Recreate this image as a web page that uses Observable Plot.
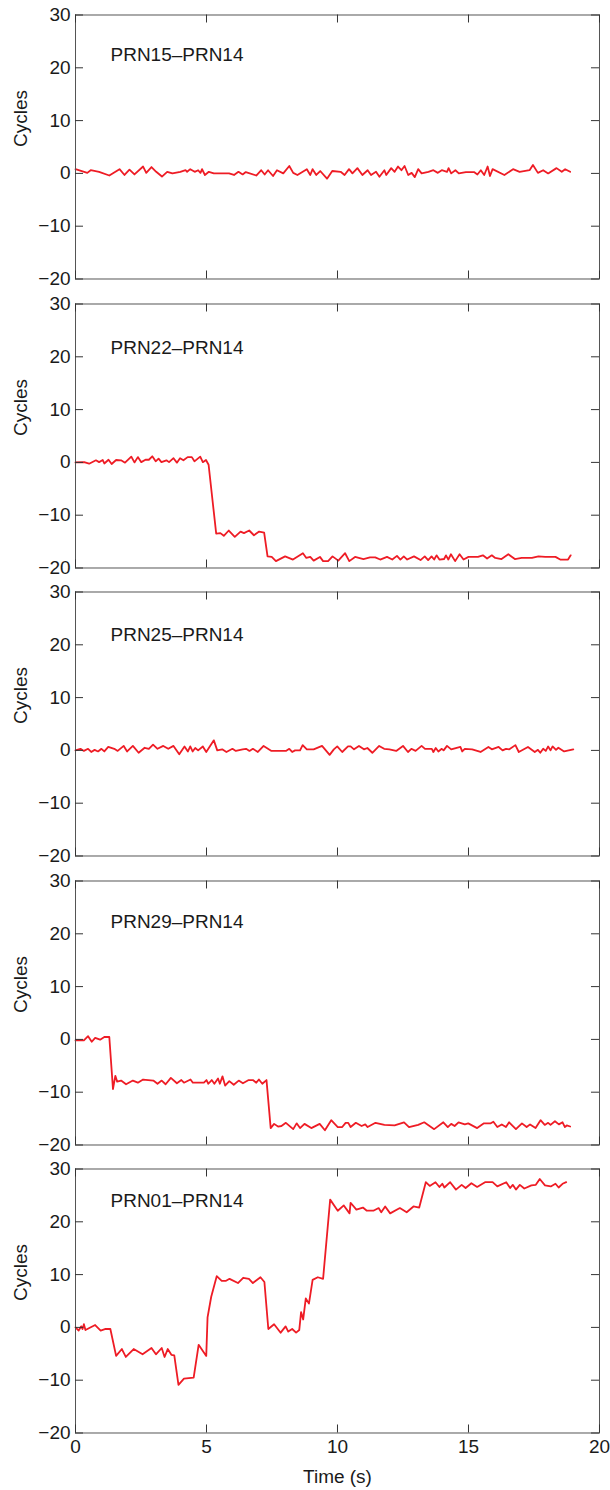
<!DOCTYPE html>
<html><head><meta charset="utf-8">
<script src="https://cdn.jsdelivr.net/npm/d3@7"></script>
<script src="https://cdn.jsdelivr.net/npm/@observablehq/plot@0.6"></script>
<style>
html,body{margin:0;padding:0;background:#fff;}
#chart svg{display:block;}
</style></head><body><div id="chart"></div>
<script>
// ---- data ----
const panelNames = ["PRN15\u2013PRN14", "PRN22\u2013PRN14", "PRN25\u2013PRN14", "PRN29\u2013PRN14", "PRN01\u2013PRN14"];
const xTicks = [0, 5, 10, 15, 20];
const yTicks = [-20, -10, 0, 10, 20, 30];
const xLabel = "Time (s)";
const yLabel = "Cycles";

const prn15Time = [0,0.45,0.58,0.9,1.29,1.68,1.87,2.06,2.25,2.58,2.7,2.9,3.08,3.3,3.5,3.7,4.0,4.2,4.26,4.38,4.55,4.68,4.77,4.83,4.94,5.09,5.28,5.86,6.05,6.22,6.38,6.5,6.9,7.09,7.22,7.35,7.54,7.69,7.93,8.16,8.31,8.47,8.83,8.96,9.05,9.19,9.34,9.6,9.8,10.12,10.27,10.44,10.57,10.76,10.95,11.15,11.28,11.47,11.6,11.79,11.86,12.05,12.18,12.31,12.44,12.56,12.7,12.83,12.95,13.08,13.21,13.47,13.66,13.83,13.98,14.18,14.24,14.34,14.5,14.63,14.9,15.21,15.34,15.47,15.6,15.73,15.82,15.92,16.37,16.7,16.95,17.33,17.46,17.65,17.85,18.04,18.36,18.56,18.69,18.88];
const prn15Cycles = [0.8,0.1,0.6,0.3,-0.4,0.8,-0.3,0.7,-0.2,1.3,0.1,1.2,0.3,-0.6,0.3,0,0.3,0.6,0.3,0.8,0.3,0.6,0.1,0.8,-0.3,0.3,0,0,-0.3,0.3,-0.2,0.25,-0.4,0.6,-0.2,0.6,-0.5,0.6,0,1.4,0.1,-0.3,0.8,-0.3,0.8,-0.3,0.45,-1.0,0.45,0.3,-0.3,0.8,0,1.0,-0.3,0.6,-0.3,0.3,-0.65,0.6,-0.3,1.0,0.3,1.3,0.6,1.4,-0.3,0.1,-0.7,0.8,0,0.3,0.6,0.1,0.6,0.3,1.0,0,0.6,0,0.25,0.25,-0.2,0.6,-0.3,1.3,-0.5,0.8,-0.3,0.8,0.3,0.6,1.6,0.1,0.6,0,1.0,0.3,0.8,0.3];

const prn22Time = [0,0.33,0.52,0.78,0.9,1.04,1.1,1.26,1.38,1.55,1.74,1.89,2.13,2.25,2.38,2.51,2.67,2.8,2.93,3.06,3.17,3.28,3.47,3.57,3.74,3.87,3.99,4.12,4.28,4.44,4.54,4.76,4.86,4.98,5.08,5.37,5.53,5.66,5.85,6.08,6.3,6.43,6.63,6.81,7.01,7.2,7.33,7.49,7.65,8.0,8.3,8.68,8.81,8.96,9.09,9.33,9.45,9.64,9.81,10.03,10.29,10.45,10.67,10.99,11.24,11.44,11.63,11.89,12.09,12.27,12.4,12.53,12.66,12.92,13.17,13.33,13.46,13.59,13.69,13.78,13.89,14.07,14.14,14.23,14.33,14.49,14.66,14.81,15.0,15.36,15.55,15.71,15.89,16.02,16.26,16.52,16.77,17.03,17.42,17.67,17.93,18.32,18.5,18.8,18.9];
const prn22Cycles = [0,0.05,-0.25,0.4,0.05,0.45,-0.2,0.5,-0.3,0.45,0.4,-0.05,1.1,0,1.0,0.05,0.5,0.5,1.15,0.2,0.7,0.05,0.4,0.05,0.8,-0.05,0.8,0.4,1.0,1.0,0.2,1.1,0.05,0.45,-0.45,-13.5,-13.4,-13.9,-12.9,-14.1,-13.1,-13.4,-12.9,-13.8,-13.1,-13.3,-17.8,-17.9,-18.7,-17.8,-18.4,-17.2,-18.1,-17.9,-18.6,-17.9,-18.7,-18.7,-17.8,-18.6,-17.2,-18.7,-17.9,-18.3,-18.0,-18.0,-18.4,-17.9,-18.4,-17.7,-18.4,-17.8,-18.4,-17.8,-18.5,-17.8,-18.5,-17.8,-18.4,-17.6,-18.4,-18.3,-17.6,-18.4,-17.4,-18.7,-17.4,-18.4,-17.9,-17.9,-17.6,-18.2,-17.6,-18.1,-18.3,-17.4,-18.3,-18.1,-18.1,-17.8,-17.9,-17.9,-18.4,-18.4,-17.6];

const prn25Time = [0,0.19,0.32,0.48,0.6,0.73,0.86,0.99,1.1,1.25,1.48,1.61,1.84,1.97,2.19,2.41,2.64,2.8,2.96,3.13,3.35,3.54,3.74,3.96,4.16,4.29,4.38,4.47,4.57,4.68,4.86,4.99,5.28,5.41,5.6,5.76,5.99,6.12,6.38,6.51,6.64,6.77,6.96,7.18,7.48,8.03,8.16,8.27,8.38,8.57,8.67,8.83,9.09,9.41,9.7,9.86,9.99,10.18,10.4,10.5,10.63,10.82,11.01,11.14,11.33,11.59,11.78,11.98,12.24,12.5,12.69,12.82,12.98,13.21,13.34,13.6,13.66,13.75,13.85,13.98,14.05,14.18,14.34,14.69,14.76,14.86,15.14,15.46,15.76,15.89,16.15,16.3,16.43,16.56,16.79,16.92,17.27,17.53,17.65,17.74,17.85,17.95,18.04,18.13,18.21,18.34,18.43,18.65,19.0];
const prn25Cycles = [0,0.3,-0.1,0.3,-0.3,0.1,-0.2,0.3,-0.2,0.65,0.3,-0.1,0.85,-0.2,0.85,-0.45,0.5,0.3,1.1,0.3,0.85,0.3,0.85,-0.75,0.75,-0.2,0.75,-0.2,0.45,0,0.75,-0.3,1.9,0,0.2,-0.3,0.3,-0.1,0.2,0.3,-0.1,0.3,-0.3,0.85,-0.1,-0.1,0.3,-0.3,0,0,1.0,0.2,0.2,0.85,-0.85,0.2,0.75,-0.3,0.75,0.75,0.2,0.85,0.2,0.45,-0.45,0.85,0.3,0.2,-0.1,0.85,-0.3,0.3,-0.1,0.85,0.3,0.3,-0.3,0.45,-0.2,0.3,0,0.85,0.2,0.65,-0.2,0.3,0.2,-0.3,0.65,0.2,0.65,0,0.3,0.2,1.0,-0.3,0.65,-0.3,0.1,-0.45,0.3,-0.1,0.75,0,0.75,0.1,0.5,-0.2,0.2];

const prn29Time = [0,0.32,0.48,0.62,0.75,0.94,1.1,1.29,1.43,1.52,1.59,1.74,1.93,2.19,2.38,2.58,2.97,3.13,3.29,3.44,3.64,3.87,4.04,4.14,4.39,4.48,4.9,5.0,5.07,5.2,5.3,5.44,5.51,5.61,5.71,5.87,6.04,6.23,6.39,6.61,6.77,6.9,7.0,7.13,7.29,7.45,7.58,7.73,7.86,8.03,8.31,8.44,8.57,8.74,9.0,9.32,9.52,9.76,10.01,10.18,10.31,10.41,10.5,10.7,10.92,11.06,11.15,11.45,11.79,12.18,12.54,12.73,13.08,13.31,13.69,14.04,14.21,14.34,14.47,14.62,14.86,14.99,15.33,15.59,15.85,15.95,16.1,16.27,16.43,16.55,16.81,17.04,17.22,17.35,17.56,17.75,17.91,18.04,18.13,18.3,18.45,18.59,18.68,18.75,18.88];
const prn29Cycles = [-0.2,-0.2,0.6,-0.45,0.3,-0.05,0.45,0.45,-9.4,-6.9,-8.0,-7.8,-8.5,-7.8,-8.2,-7.6,-7.8,-8.4,-7.8,-8.5,-7.3,-8.3,-7.7,-8.2,-7.6,-8.2,-8.2,-7.7,-8.4,-7.7,-8.4,-7.4,-8.4,-7.0,-8.75,-7.9,-8.6,-7.8,-8.3,-7.7,-7.7,-8.2,-7.6,-8.4,-7.7,-16.8,-16.0,-16.5,-16.4,-15.8,-17.0,-15.9,-16.8,-16.0,-16.8,-16.0,-17.2,-15.3,-16.6,-16.6,-15.8,-15.8,-16.6,-15.8,-16.4,-16.1,-16.6,-15.8,-16.2,-16.3,-15.7,-16.6,-16.2,-15.7,-17.0,-15.7,-16.6,-16.0,-16.4,-15.7,-16.1,-15.9,-16.8,-15.9,-15.9,-15.6,-16.6,-16.1,-16.6,-15.7,-17.0,-15.9,-16.6,-16.1,-16.8,-15.3,-16.2,-15.8,-16.2,-15.5,-16.1,-15.7,-16.6,-16.3,-16.5];

const prn01Time = [0,0.12,0.22,0.27,0.32,0.38,0.75,0.96,1.15,1.33,1.55,1.77,1.92,2.22,2.56,2.9,3.07,3.29,3.4,3.52,3.66,3.77,3.93,4.14,4.51,4.7,4.99,5.04,5.18,5.39,5.58,5.73,5.88,6.2,6.4,6.62,6.77,7.06,7.21,7.36,7.58,7.83,8.02,8.12,8.27,8.42,8.54,8.61,8.69,8.79,8.91,9.05,9.25,9.45,9.72,10.01,10.24,10.46,10.5,10.72,10.97,11.12,11.37,11.57,11.67,11.82,12.01,12.38,12.64,12.9,13.12,13.37,13.52,13.74,13.89,14.0,14.08,14.3,14.52,14.74,14.89,15.11,15.33,15.63,15.92,16.1,16.44,16.59,16.69,16.81,16.96,17.13,17.4,17.57,17.72,17.92,18.14,18.32,18.44,18.59,18.73];
const prn01Cycles = [0,-0.6,0.2,-0.3,0.6,-0.5,0.45,-0.6,-0.3,-0.3,-5.4,-4.1,-5.6,-4.1,-5.1,-3.9,-5.1,-3.9,-5.6,-4.1,-5.2,-5.3,-10.9,-9.7,-9.5,-3.3,-5.4,1.9,5.8,9.7,8.8,8.8,9.2,8.4,9.4,9.2,8.4,9.5,8.6,-0.3,0.6,-1.0,0.2,-0.8,-0.3,-1.0,-0.5,2.9,1.5,5.5,4.5,9.0,9.5,9.2,24.2,22.1,23.1,21.6,23.6,22.3,22.7,22.1,22.1,22.6,21.8,22.9,21.6,22.6,21.8,22.9,22.7,27.5,26.8,27.5,26.6,27.2,26.5,27.5,26.1,27.0,26.4,27.3,26.6,27.5,27.5,26.7,27.5,26.4,27.0,26.1,27.0,26.3,26.9,27.0,28.1,26.9,26.7,27.2,26.5,27.2,27.5];

const seriesTimes = [prn15Time, prn22Time, prn25Time, prn29Time, prn01Time];
const seriesCycles = [prn15Cycles, prn22Cycles, prn25Cycles, prn29Cycles, prn01Cycles];

// ---- layout / style ----
const W = 610, H_TOTAL = 1490, PITCH = 288.6, MT = 14.5, INNER = 264;
const ML = 75, MR = 11, INNER_W = W - ML - MR;
const labelDy = [40, 44, 43, 41, 32];
const FONT = "'Liberation Sans', Arial, Helvetica, sans-serif";
const FS = 19;
const RED = "#ee1c25", FRAME = "#555", TICK = "#333", TEXT = "#1a1a1a";
const TICK_LEN = 8;

function panel(i) {
  const last = i === panelNames.length - 1;
  const data = seriesTimes[i].map((t, k) => ({t, c: seriesCycles[i][k]}));
  const h = last ? H_TOTAL - PITCH * (panelNames.length - 1) : PITCH;
  const mb = h - MT - INNER;
  const tk = {stroke: TICK, strokeWidth: 1};
  const marks = [
    Plot.line(data, {x: "t", y: "c", stroke: RED, strokeWidth: 1.8, strokeLinejoin: "round"}),
    Plot.frame({stroke: FRAME, strokeWidth: 1}),
    // inward ticks on all four sides
    Plot.tickY(yTicks, {y: d => d, insetRight: INNER_W - TICK_LEN, ...tk}),
    Plot.tickY(yTicks, {y: d => d, insetLeft: INNER_W - TICK_LEN, ...tk}),
    Plot.tickX(xTicks, {x: d => d, insetBottom: INNER - TICK_LEN, ...tk}),
    Plot.tickX(xTicks, {x: d => d, insetTop: INNER - TICK_LEN, ...tk}),
    Plot.axisY({anchor: "left", ticks: yTicks, tickSize: 0, tickPadding: 5, label: null, fill: TEXT}),
    Plot.text([yLabel], {text: d => d, frameAnchor: "left", dx: -55, rotate: -90, fill: TEXT}),
    Plot.text([panelNames[i]], {text: d => d, frameAnchor: "top-left", dx: 35, dy: labelDy[i], textAnchor: "start", lineAnchor: "middle", fill: TEXT})
  ];
  if (last) {
    marks.push(Plot.axisX({anchor: "bottom", ticks: xTicks, tickSize: 0, tickPadding: 7, label: null, fill: TEXT}));
    marks.push(Plot.text([xLabel], {text: d => d, frameAnchor: "bottom", dy: 44, lineAnchor: "middle", fill: TEXT}));
  }
  return Plot.plot({
    width: W, height: h,
    marginLeft: ML, marginRight: MR, marginTop: MT, marginBottom: mb,
    x: {domain: [0, 20], axis: null},
    y: {domain: [-20, 30], axis: null},
    style: {fontFamily: FONT, fontSize: FS + "px", color: TEXT, background: "#fff", overflow: "visible"},
    marks
  });
}

const root = document.getElementById("chart");
panelNames.forEach((_, i) => root.appendChild(panel(i)));
</script></body></html>
